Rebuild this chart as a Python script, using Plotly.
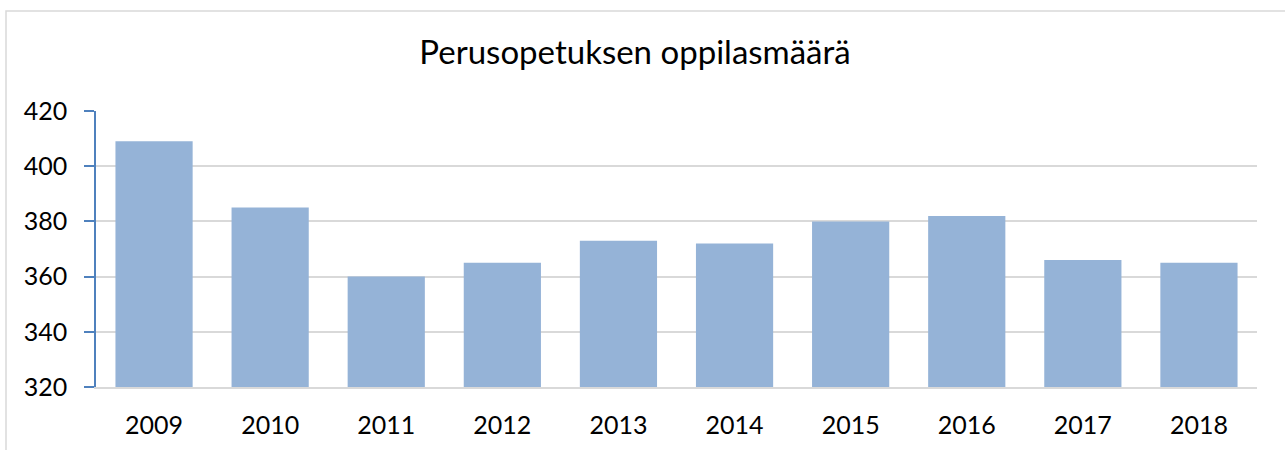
import plotly.graph_objects as go

years = ["2009", "2010", "2011", "2012", "2013", "2014", "2015", "2016", "2017", "2018"]
students = [409, 385, 360, 365, 373, 372, 380, 382, 366, 365]
y_ticks = [320, 340, 360, 380, 400, 420]
title_text = "Perusopetuksen oppilasmäärä"

W, H = 1285, 450
L, R, T, B = 96, 28, 111, 63
pw, ph = W - L - R, H - T - B

fig = go.Figure()
fig.add_trace(go.Bar(
    x=years, y=students,
    marker=dict(color="#95B3D7", line=dict(width=0)),
    width=0.665,
))

def px_x(p):
    return (p - L) / pw

def px_y(p):
    return (H - B - p) / ph

fig.update_layout(
    width=W, height=H,
    margin=dict(l=L, r=R, t=T, b=B, pad=0),
    paper_bgcolor="white", plot_bgcolor="white",
    font=dict(family="Lato, 'Open Sans', sans-serif", color="#000000", size=25),
    title=dict(text=title_text, x=635 / W, xref="container", xanchor="center",
               y=1 - 52 / H, yanchor="middle", yref="container",
               font=dict(size=33, family="Lato, sans-serif", color="#000000")),
    showlegend=False,
    xaxis=dict(
        showgrid=False, showline=True, linecolor="#D9D9D9", linewidth=2,
        ticks="", tickfont=dict(size=25), ticklabelstandoff=15,
    ),
    yaxis=dict(
        range=[320, 420], tickvals=y_ticks, showgrid=True, gridcolor="#D9D9D9",
        gridwidth=2, showline=True, linecolor="#4F81BD", linewidth=1.5,
        ticks="outside", ticklen=10, tickcolor="#4F81BD", tickwidth=1.5,
        tickfont=dict(size=25), ticklabelstandoff=12, zeroline=False,
    ),
    shapes=[dict(
        type="rect", xref="paper", yref="paper",
        x0=px_x(6), x1=px_x(1300), y0=px_y(470), y1=px_y(11),
        line=dict(color="#D9D9D9", width=1.5), fillcolor="rgba(0,0,0,0)", layer="below",
    )],
)

fig.write_html("out.html", config={"displayModeBar": False},
               post_script="document.body.style.margin='0';")
